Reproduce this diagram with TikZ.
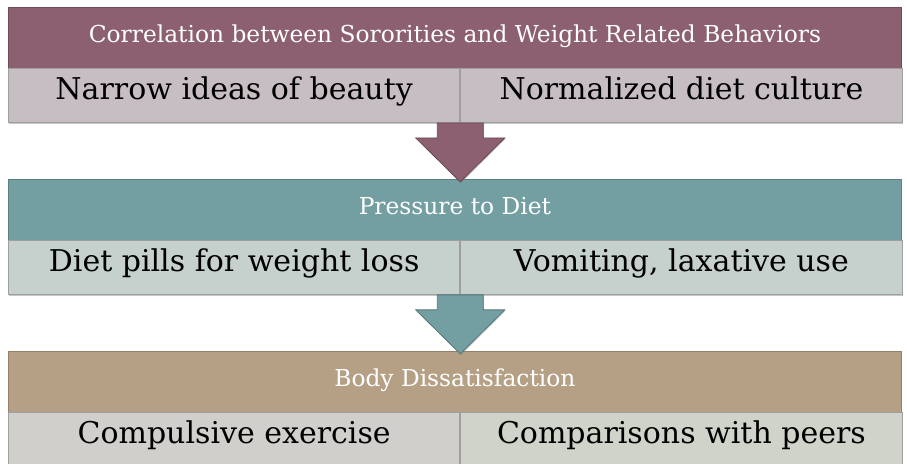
\documentclass[tikz,border=0pt]{standalone}
\usepackage{fontspec}
\setmainfont{DejaVu Serif}
\usepackage{xcolor}
\usetikzlibrary{positioning, calc, shadows}

\definecolor{mauveHead}{HTML}{8C6070}
\definecolor{mauveCell}{HTML}{C7BEC4}
\definecolor{tealHead}{HTML}{739FA2}
\definecolor{tealCell}{HTML}{C6D0CC}
\definecolor{tanHead}{HTML}{B5A086}
\definecolor{tanCellL}{HTML}{D1CFCB}
\definecolor{tanCellR}{HTML}{CFD3C9}

% block arrow from the divider of one block down onto the next header
\newcommand{\flowarrow}[3]{%
    \filldraw[#3, draw=#3!75!black, line width=0.6pt, drop shadow={shadow xshift=0.6pt, shadow yshift=-0.9pt, opacity=0.35}]
        ($(#1)+(-17.25pt,0)$) -- ($(#1)+(17.25pt,0)$) -- ($(#1)+(17.25pt,-11.25pt)$)
        -- ($(#1)+(33.4pt,-11.25pt)$) -- ($(#1 |- #2.north)+(0,-2.25pt)$)
        -- ($(#1)+(-33.4pt,-11.25pt)$) -- ($(#1)+(-17.25pt,-11.25pt)$) -- cycle;
}

\begin{document}
\begin{tikzpicture}[
    head/.style={rectangle, draw=#1!80!black, fill=#1, line width=0.6pt, text=white,
        minimum width=669.75pt, minimum height=45.5pt, inner sep=0pt, font=\fontsize{17.5}{20}\selectfont,
        text height=0.98em, text depth=0.2em,
        drop shadow={shadow xshift=0.6pt, shadow yshift=-0.9pt, opacity=0.35}},
    cell/.style={rectangle, draw=gray!75, fill=#1, line width=0.6pt, text=black,
        minimum height=40.25pt, inner sep=0pt, font=\fontsize{22.5}{26}\selectfont,
        text height=0.76em, text depth=0.2em,
        drop shadow={shadow xshift=0.6pt, shadow yshift=-1.2pt, opacity=0.45}},
    leftcell/.style={cell=#1, minimum width=338.6pt},
    rightcell/.style={cell=#1, minimum width=331.15pt},
]
    \useasboundingbox (0,0) rectangle (680.25pt,-348pt);

    % Sororities
    \node[head=mauveHead, anchor=north west] (corr) at (6pt,-5.25pt) {Correlation between Sororities and Weight Related Behaviors};
    \node[leftcell=mauveCell, below=0pt of corr.south west, anchor=north west] (beauty) {Narrow ideas of beauty};
    \node[rightcell=mauveCell, right=0pt of beauty] (culture) {Normalized diet culture};

    % Diet
    \node[head=tealHead, below=42pt of beauty.south west, anchor=north west] (pressure) {Pressure to Diet};
    \node[leftcell=tealCell, below=0pt of pressure.south west, anchor=north west] (pills) {Diet pills for weight loss};
    \node[rightcell=tealCell, right=0pt of pills] (vomit) {Vomiting, laxative use};

    % Body image
    \node[head=tanHead, below=42pt of pills.south west, anchor=north west] (body) {Body Dissatisfaction};
    \node[leftcell=tanCellL, below=0pt of body.south west, anchor=north west] (exercise) {Compulsive exercise};
    \node[rightcell=tanCellR, right=0pt of exercise] (peers) {Comparisons with peers};

    % Arrows
    \flowarrow{beauty.south east}{pressure}{mauveHead}
    \flowarrow{pills.south east}{body}{tealHead}
\end{tikzpicture}
\end{document}
